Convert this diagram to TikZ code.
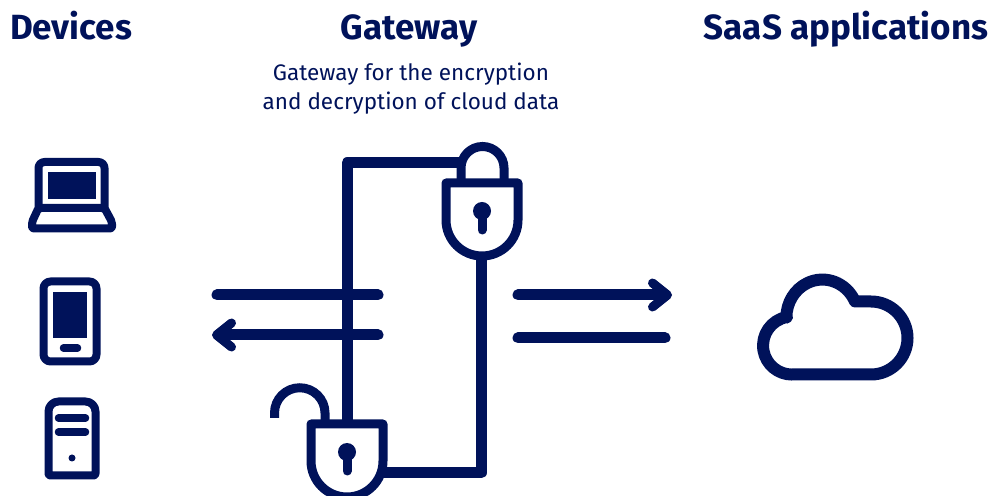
\documentclass[tikz,border=0pt]{standalone}
\usepackage{fontspec}
\setmainfont{Fira Sans}
\usetikzlibrary{arrows.meta}
\definecolor{navy}{HTML}{00125A}
\tikzset{
  wire/.style={draw=navy, line width=11pt, line join=round},
  flow/.style={draw=navy, line width=11pt, line cap=round},
  flowhead/.style={-{Straight Barb[round, length=15pt, width=24pt, line width=9pt]}},
  icon/.style={draw=navy, line width=8pt, line join=round},
  bar/.style={draw=navy, line width=7.5pt, line cap=round},
  title/.style={text=navy, anchor=base, font=\bfseries\fontsize{35}{40}\selectfont},
  subtitle/.style={text=navy, align=center, font=\fontsize{22.5}{29}\selectfont},
  lock/.pic={
    \draw[navy, line width=9pt, line join=round] (-36,28) -- (36,28) -- (36,-9)
      arc[start angle=0, end angle=-180, radius=36] -- cycle;
    \fill[navy] (0,0) circle (9);
    \draw[navy, line width=9pt, line cap=round] (0,0) -- (0,-19);
  }
}
\begin{document}
\begin{tikzpicture}[x=1pt, y=1pt]
      \path[use as bounding box, clip] (0,0) rectangle (998,495);
      \node[title] (devices) at (71,455) {Devices};
      \node[title] (gateway) at (409,455) {Gateway};
      \node[title] (saas) at (846,455) {SaaS applications};
      \node[subtitle] (gatewaytext) at (411,406.5) {Gateway for the encryption\\and decryption of cloud data};

      \draw[icon, rounded corners=6pt] (38.5,287) -- (38.5,333) -- (104.5,333) -- (104.5,287);
      \draw[icon, rounded corners=2pt] (38.5,287) -- (104.5,287) -- (112,273) -- (112,266.5) -- (32,266.5) -- (32,273) -- cycle;
      \fill[navy] (48,296) rectangle (96,323);

      \draw[icon, rounded corners=7pt] (43.5,133.5) rectangle (96.5,213.5);
      \fill[navy] (53,157) rectangle (87,203);
      \draw[bar] (63.5,147) -- (77.5,147);

      \draw[icon, rounded corners=2pt] (48.5,19.5) -- (95.5,19.5) -- (95.5,81) [rounded corners=10pt] -- (95.5,93.5) -- (48.5,93.5) [rounded corners=2pt] -- (48.5,19.5) -- cycle;
      \draw[bar] (58.5,77) -- (85.5,77);
      \draw[bar] (58.5,63) -- (85.5,63);
      \fill[navy] (72,37) circle (3.5);

      \pic (locktop) at (482,284) {lock};
      \pic (lockbottom) at (347,43) {lock};
      \draw[navy, line width=9pt] (461,312) -- (461,327) arc[start angle=180, end angle=0, radius=21.5] -- (504,312);
      \draw[navy, line width=9pt] (274.5,77) -- (274.5,82) arc[start angle=180, end angle=0, radius=25.25] -- (325,71);

      \coordinate (locktopin) at (460,332);
      \coordinate (locktopout) at (481,240);
      \coordinate (lockbottomin) at (347,71);
      \coordinate (lockbottomout) at (383,22);
      \draw[wire] (locktopin) -| (lockbottomin);
      \draw[wire] (locktopout) |- (lockbottomout);

      \coordinate (leftend1) at (217,200);
      \coordinate (leftend2) at (212,160);
      \coordinate (midend1) at (378,200);
      \coordinate (midend2) at (378,160);
      \coordinate (rightstart1) at (518,200);
      \coordinate (rightstart2) at (518,157);
      \coordinate (rightend1) at (672,200);
      \coordinate (rightend2) at (665,157);
      \draw[flow] (leftend1) -- (midend1);
      \draw[flow, flowhead] (midend2) -- (leftend2);
      \draw[flow, flowhead] (rightstart1) -- (rightend1);
      \draw[flow] (rightstart2) -- (rightend2);

      \draw[navy, line width=12pt, line join=round] (792,120.5) -- (871,120.5)
        arc[start angle=-90, end angle=90, radius=36.5] -- (855,193.5)
        arc[start angle=25, end angle=180, x radius=36, y radius=38] -- (787,178)
        arc[start angle=100, end angle=270, radius=29] -- cycle;
     \end{tikzpicture}
\end{document}
